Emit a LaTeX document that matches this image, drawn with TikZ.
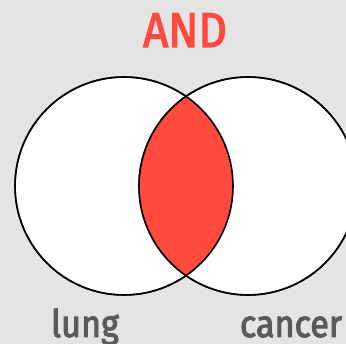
\documentclass[tikz,border=0pt]{standalone}
\usepackage{fontspec}
\newfontfamily\vennfont[FakeStretch=0.9, FakeBold=2.6]{Fira Sans}
\usepackage{xcolor}
\definecolor{bgGray}{HTML}{E4E4E6}
\definecolor{andRed}{HTML}{FF4A3D}
\definecolor{labelGray}{HTML}{5A5A5A}

\begin{document}
\begin{tikzpicture}[
    x=1pt, y=1pt,
    setcircle/.style={circle, draw=black!85, line width=1.6pt, fill=white, minimum size=218pt, inner sep=0pt},
    title/.style={font=\vennfont\fontsize{49}{49}\selectfont, text=andRed, anchor=base, inner sep=0pt},
    setlabel/.style={font=\vennfont\fontsize{38}{38}\selectfont, text=labelGray, anchor=base, inner sep=0pt},
  ]

  \fill[bgGray] (0,0) rectangle (346,344);
  \useasboundingbox (0,0) rectangle (346,344);

  \node[setcircle] (lung) at (124,158) {};
  \node[setcircle] (cancer) at (248,158) {};

  % intersection
  \begin{scope}
    \clip (lung.center) circle (109);
    \fill[andRed] (cancer.center) circle (109);
  \end{scope}
  \draw[black, line width=1.6pt] (lung.center) circle (109);
  \draw[black, line width=1.6pt] (cancer.center) circle (109);

  \node[title] (andtitle) at (185,297) {AND};
  \node[setlabel] (lunglabel) at (85,7) {lung};
  \node[setlabel] (cancerlabel) at (291,7) {cancer};

\end{tikzpicture}
\end{document}
